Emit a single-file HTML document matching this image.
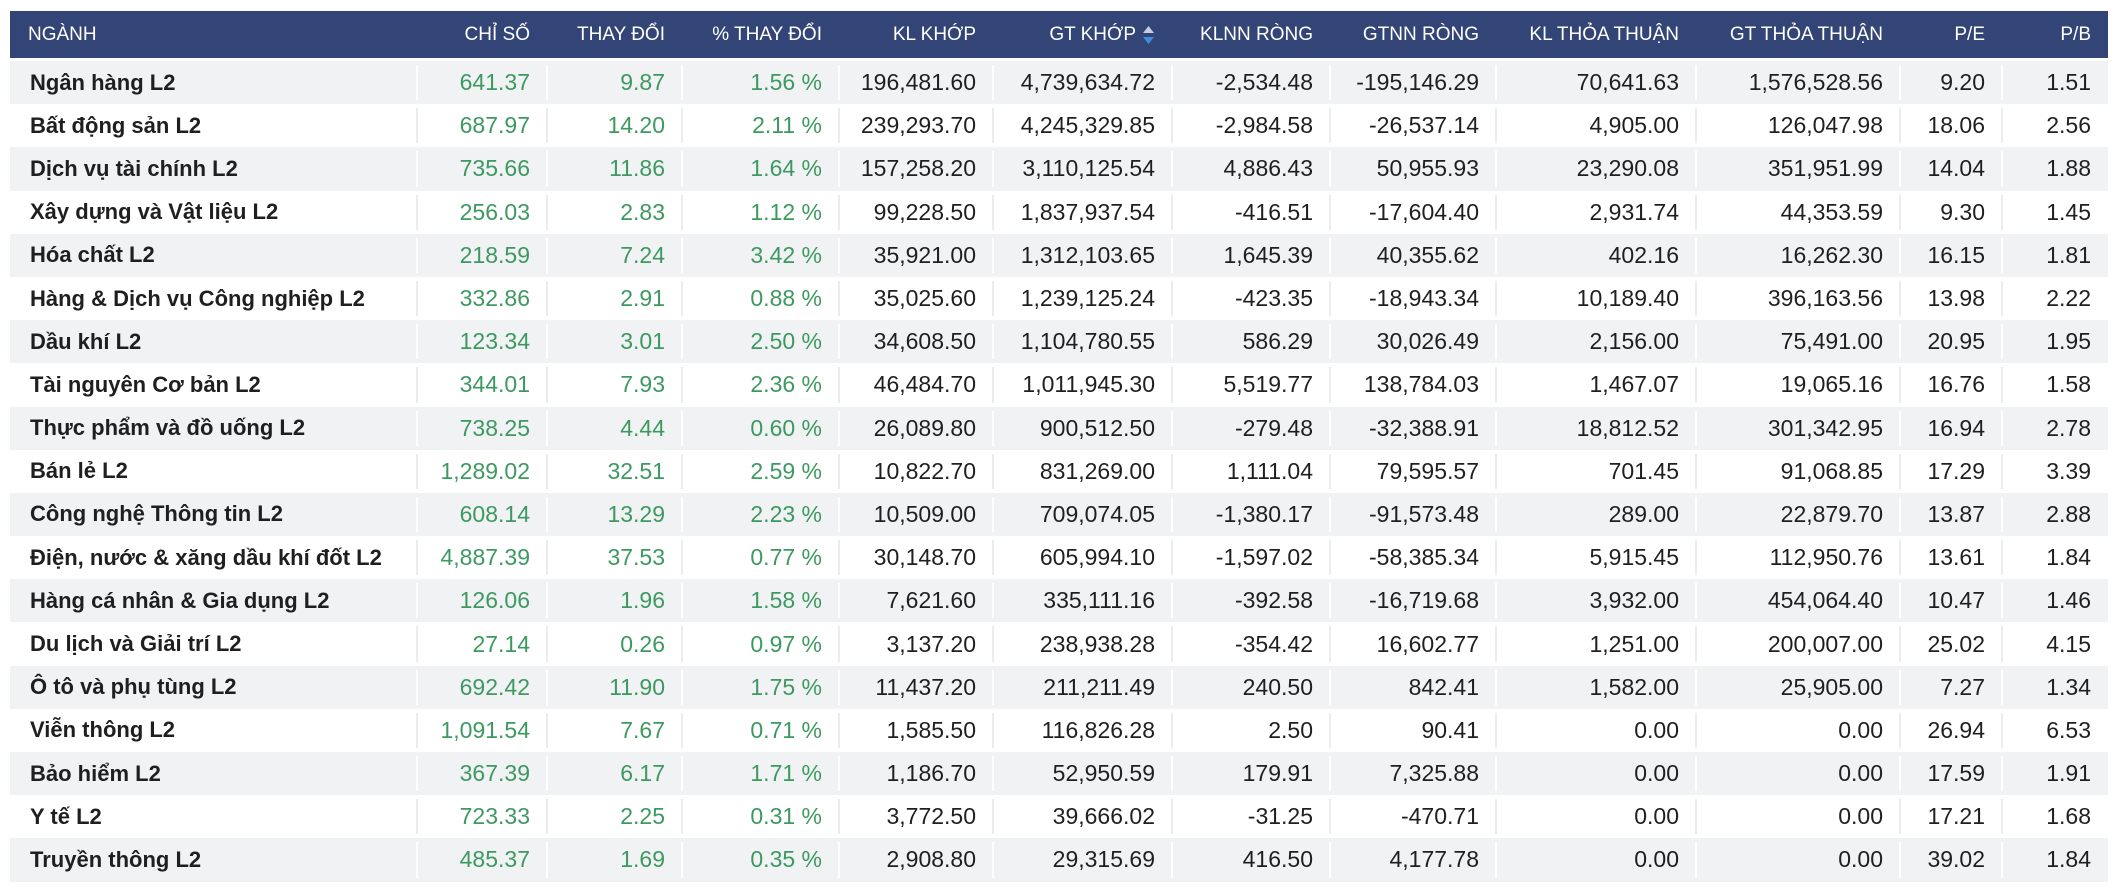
<!DOCTYPE html>
<html><head><meta charset="utf-8"><style>
*{margin:0;padding:0;box-sizing:border-box}
body{width:2118px;height:891px;background:#fff;font-family:"Liberation Sans",sans-serif;overflow:hidden;position:relative}
.t{position:absolute;left:10px;top:11px;width:2098px}
.r{display:flex;height:43.2px;align-items:center}
.h{height:47px;background:#334477;color:#fff;font-size:19px;margin-bottom:3px}
.c{flex:0 0 auto;height:100%;display:flex;align-items:center;justify-content:flex-end;padding-right:17px;position:relative;white-space:nowrap}
.c:first-child{justify-content:flex-start;padding-left:20px}
.b .c{font-size:23px;color:#1f1f1f}
.b .c:first-child{font-weight:bold;font-size:22px}
.b .c:not(:first-child)::after{content:"";position:absolute;left:-1px;top:4px;bottom:4px;width:2px;background:#ececee}
.b:nth-child(even){background:#f1f2f4}
.b:nth-child(even) .c::after{background:#fff}
.g{color:#3d9960!important}
.h .c:first-child{padding-left:18px}
.w0{width:407px}.w1{width:130px}.w2{width:135px}.w3{width:157px}.w4{width:154px}.w5{width:179px}.w6{width:158px}.w7{width:166px}.w8{width:200px}.w9{width:204px}.w10{width:102px}.w11{width:106px}
.ar{display:inline-block;margin-left:6px;vertical-align:middle}
</style></head><body><div class="t">
<div class="r h"><div class="c w0">NGÀNH</div><div class="c w1">CHỈ SỐ</div><div class="c w2">THAY ĐỔI</div><div class="c w3">% THAY ĐỔI</div><div class="c w4">KL KHỚP</div><div class="c w5">GT KHỚP<svg class="ar" width="13" height="20" viewBox="0 0 13 20"><path d="M1 8 L6.5 1 L12 8Z" fill="#c8cde0"/><path d="M1 12 L6.5 19 L12 12Z" fill="#3d8fe0"/></svg></div><div class="c w6">KLNN RÒNG</div><div class="c w7">GTNN RÒNG</div><div class="c w8">KL THỎA THUẬN</div><div class="c w9">GT THỎA THUẬN</div><div class="c w10">P/E</div><div class="c w11">P/B</div></div>
</div>
<script>
var d=[["Ngân hàng L2","641.37","9.87","1.56 %","196,481.60","4,739,634.72","-2,534.48","-195,146.29","70,641.63","1,576,528.56","9.20","1.51"],
["Bất động sản L2","687.97","14.20","2.11 %","239,293.70","4,245,329.85","-2,984.58","-26,537.14","4,905.00","126,047.98","18.06","2.56"],
["Dịch vụ tài chính L2","735.66","11.86","1.64 %","157,258.20","3,110,125.54","4,886.43","50,955.93","23,290.08","351,951.99","14.04","1.88"],
["Xây dựng và Vật liệu L2","256.03","2.83","1.12 %","99,228.50","1,837,937.54","-416.51","-17,604.40","2,931.74","44,353.59","9.30","1.45"],
["Hóa chất L2","218.59","7.24","3.42 %","35,921.00","1,312,103.65","1,645.39","40,355.62","402.16","16,262.30","16.15","1.81"],
["Hàng & Dịch vụ Công nghiệp L2","332.86","2.91","0.88 %","35,025.60","1,239,125.24","-423.35","-18,943.34","10,189.40","396,163.56","13.98","2.22"],
["Dầu khí L2","123.34","3.01","2.50 %","34,608.50","1,104,780.55","586.29","30,026.49","2,156.00","75,491.00","20.95","1.95"],
["Tài nguyên Cơ bản L2","344.01","7.93","2.36 %","46,484.70","1,011,945.30","5,519.77","138,784.03","1,467.07","19,065.16","16.76","1.58"],
["Thực phẩm và đồ uống L2","738.25","4.44","0.60 %","26,089.80","900,512.50","-279.48","-32,388.91","18,812.52","301,342.95","16.94","2.78"],
["Bán lẻ L2","1,289.02","32.51","2.59 %","10,822.70","831,269.00","1,111.04","79,595.57","701.45","91,068.85","17.29","3.39"],
["Công nghệ Thông tin L2","608.14","13.29","2.23 %","10,509.00","709,074.05","-1,380.17","-91,573.48","289.00","22,879.70","13.87","2.88"],
["Điện, nước & xăng dầu khí đốt L2","4,887.39","37.53","0.77 %","30,148.70","605,994.10","-1,597.02","-58,385.34","5,915.45","112,950.76","13.61","1.84"],
["Hàng cá nhân & Gia dụng L2","126.06","1.96","1.58 %","7,621.60","335,111.16","-392.58","-16,719.68","3,932.00","454,064.40","10.47","1.46"],
["Du lịch và Giải trí L2","27.14","0.26","0.97 %","3,137.20","238,938.28","-354.42","16,602.77","1,251.00","200,007.00","25.02","4.15"],
["Ô tô và phụ tùng L2","692.42","11.90","1.75 %","11,437.20","211,211.49","240.50","842.41","1,582.00","25,905.00","7.27","1.34"],
["Viễn thông L2","1,091.54","7.67","0.71 %","1,585.50","116,826.28","2.50","90.41","0.00","0.00","26.94","6.53"],
["Bảo hiểm L2","367.39","6.17","1.71 %","1,186.70","52,950.59","179.91","7,325.88","0.00","0.00","17.59","1.91"],
["Y tế L2","723.33","2.25","0.31 %","3,772.50","39,666.02","-31.25","-470.71","0.00","0.00","17.21","1.68"],
["Truyền thông L2","485.37","1.69","0.35 %","2,908.80","29,315.69","416.50","4,177.78","0.00","0.00","39.02","1.84"]];
var h="";
d.forEach(function(r){h+='<div class="r b">';r.forEach(function(v,i){h+='<div class="c w'+i+(i>0&&i<4?' g':'')+'">'+v+'</div>'});h+='</div>'});
document.querySelector('.t').insertAdjacentHTML('beforeend',h);
</script>
</body></html>
